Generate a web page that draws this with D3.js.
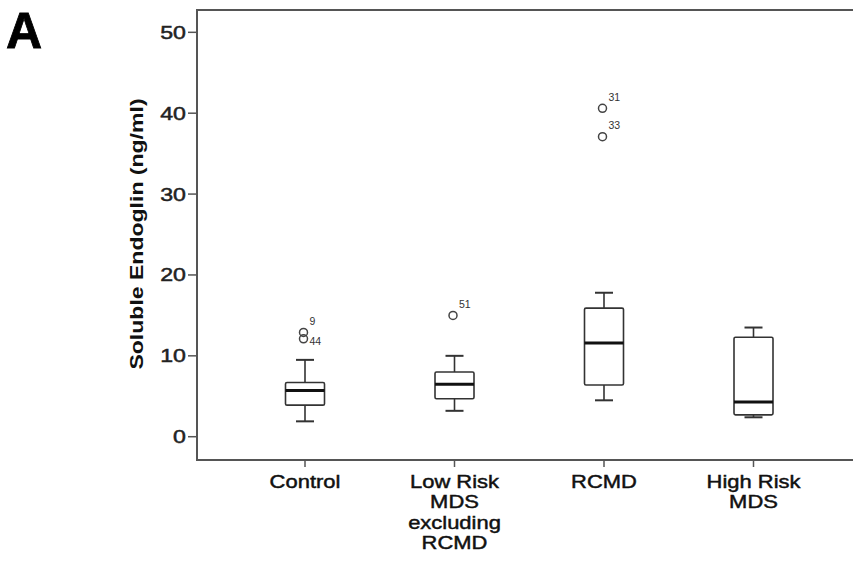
<!DOCTYPE html>
<html>
<head>
<meta charset="utf-8">
<script src="https://cdn.jsdelivr.net/npm/d3@7"></script>
<style>
  body { margin: 0; background: #fff; }
  svg { display: block; font-family: "Liberation Sans", Arial, sans-serif; }
</style>
</head>
<body>
<svg id="chart" width="853" height="567"></svg>
<script>
// groups along x, label lines under each tick
var categories = ["Control", "Low Risk MDS excluding RCMD", "RCMD", "High Risk MDS"];
var categoryLines = [["Control"], ["Low Risk", "MDS", "excluding", "RCMD"], ["RCMD"], ["High Risk", "MDS"]];

// box plot stats (ng/ml)
var whiskerLow  = [1.9, 3.2, 4.5, 2.4];
var q1          = [3.9, 4.7, 6.4, 2.7];
var median      = [5.7, 6.5, 11.6, 4.3];
var q3          = [6.7, 8.0, 15.9, 12.3];
var whiskerHigh = [9.5, 10.0, 17.8, 13.5];

// outliers
var outlierGroup = [0, 0, 1, 2, 2];
var outlierValue = [12.9, 12.1, 15.0, 40.6, 37.1];
var outlierId    = ["9", "44", "51", "31", "33"];

var yTicks = [0, 10, 20, 30, 40, 50];

window.onload = function () {
    var svg = d3.select("#chart");
    var stretch = 1.22; // the reference font is wider than Arial

    var y = d3.scaleLinear().domain([-2.88, 52.76]).range([460, 10]);
    var x = d3.scalePoint().domain(categories).range([305, 753.5]);

    var left = 197, top = 10, bottom = 460, right = 853;

    // frame: left, top, bottom (no right side visible)
    svg.append("path")
        .attr("d", "M" + right + "," + top + "H" + left + "V" + bottom + "H" + right)
        .attr("fill", "none")
        .attr("stroke", "#555")
        .attr("stroke-width", 2);

    //y ticks + labels
    var yg = svg.append("g");
    yTicks.forEach(function (t) {
        var ty = y(t);
        yg.append("line")
            .attr("x1", 188).attr("x2", left)
            .attr("y1", ty).attr("y2", ty)
            .attr("stroke", "#555").attr("stroke-width", 1.5);
        yg.append("text")
            .attr("transform", "translate(186," + (ty + 6.5) + ") scale(" + stretch + ",1)")
            .attr("text-anchor", "end")
            .attr("font-size", 19)
            .attr("fill", "#222")
            .attr("stroke", "#222")
            .attr("stroke-width", 0.5)
            .text(t);
    });

    //y title
    svg.append("text")
        .attr("transform", "translate(143,234) rotate(-90) scale(1.28,1)")
        .attr("text-anchor", "middle")
        .attr("font-size", 18)
        .attr("font-weight", "bold")
        .attr("fill", "#111")
        .text("Soluble Endoglin (ng/ml)");

    //panel letter
    svg.append("text")
        .attr("x", 6).attr("y", 48)
        .attr("font-size", 50)
        .attr("font-weight", "bold")
        .attr("fill", "#000")
        .attr("stroke", "#000")
        .attr("stroke-width", 0.8)
        .text("A");

    //x ticks + labels
    categories.forEach(function (c, i) {
        var cx = x(c);
        svg.append("line")
            .attr("x1", cx).attr("x2", cx)
            .attr("y1", bottom).attr("y2", bottom + 7)
            .attr("stroke", "#555").attr("stroke-width", 1.5);
        categoryLines[i].forEach(function (line, j) {
            svg.append("text")
                .attr("transform", "translate(" + cx + "," + (488 + j * 20.3) + ") scale(" + stretch + ",1)")
                .attr("text-anchor", "middle")
                .attr("font-size", 18)
                .attr("fill", "#111")
                .attr("stroke", "#111")
                .attr("stroke-width", 0.45)
                .text(line);
        });
    });

    //boxes
    var boxW = 39, capW = 18;
    var boxes = svg.append("g").attr("fill", "none").attr("stroke", "#333").attr("stroke-width", 1.6);
    categories.forEach(function (c, i) {
        var cx = x(c);
        // whiskers
        boxes.append("line")
            .attr("x1", cx).attr("x2", cx)
            .attr("y1", y(whiskerHigh[i])).attr("y2", y(q3[i]));
        boxes.append("line")
            .attr("x1", cx).attr("x2", cx)
            .attr("y1", y(q1[i])).attr("y2", y(whiskerLow[i]));
        boxes.append("line")
            .attr("x1", cx - capW / 2).attr("x2", cx + capW / 2)
            .attr("y1", y(whiskerHigh[i])).attr("y2", y(whiskerHigh[i]))
            .attr("stroke-width", 2);
        boxes.append("line")
            .attr("x1", cx - capW / 2).attr("x2", cx + capW / 2)
            .attr("y1", y(whiskerLow[i])).attr("y2", y(whiskerLow[i]))
            .attr("stroke-width", 2);
        // box
        boxes.append("rect")
            .attr("x", cx - boxW / 2)
            .attr("y", y(q3[i]))
            .attr("width", boxW)
            .attr("height", y(q1[i]) - y(q3[i]))
            .attr("fill", "#fff")
            .attr("rx", 1.5);
        // median
        boxes.append("line")
            .attr("x1", cx - boxW / 2).attr("x2", cx + boxW / 2)
            .attr("y1", y(median[i])).attr("y2", y(median[i]))
            .attr("stroke", "#111")
            .attr("stroke-width", 3);
    });

    //outliers
    var og = svg.append("g");
    outlierValue.forEach(function (v, k) {
        var cx = x(categories[outlierGroup[k]]) - 1.5;
        var cy = y(v);
        og.append("circle")
            .attr("cx", cx).attr("cy", cy).attr("r", 4)
            .attr("fill", "none")
            .attr("stroke", "#444")
            .attr("stroke-width", 1.5);
        // label goes below when the point sits right under the previous one
        var crowded = k > 0 && outlierGroup[k - 1] == outlierGroup[k] &&
            Math.abs(outlierValue[k - 1] - v) < 2;
        og.append("text")
            .attr("x", cx + 6)
            .attr("y", crowded ? cy + 6.5 : cy - 7.5)
            .attr("font-size", 10.5)
            .attr("fill", "#333")
            .text(outlierId[k]);
    });
};
</script>
</body>
</html>
